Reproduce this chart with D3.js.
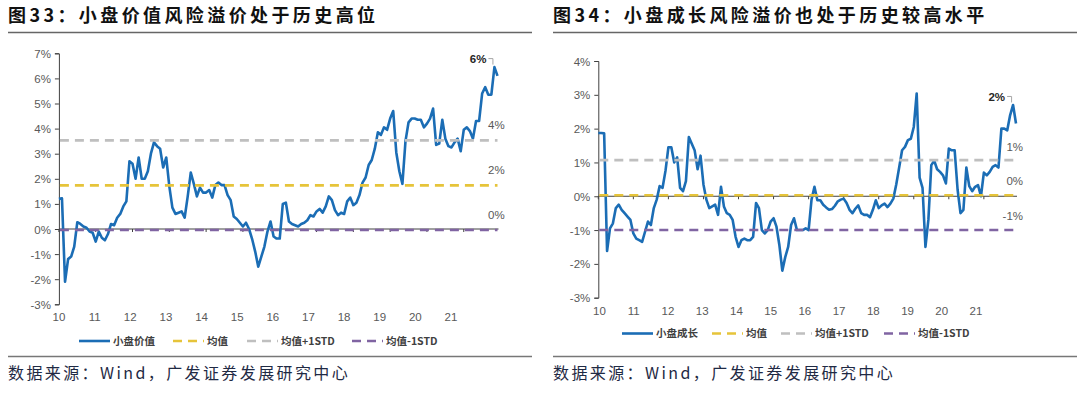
<!DOCTYPE html>
<html>
<head>
<meta charset="utf-8">
<script src="https://cdn.jsdelivr.net/npm/d3@7"></script>
<style>
  body { margin: 0; background: #fff; }
  svg { display: block; font-family: Arial, "Liberation Sans", "Noto Sans CJK SC", sans-serif; }
  .title { font-family: "Noto Sans CJK SC", sans-serif; font-weight: 700; font-size: 18px; letter-spacing: 3.4px; fill: #111; }
  .source { font-family: "Noto Sans CJK SC", sans-serif; font-size: 16px; letter-spacing: 2.4px; fill: #1f2a44; }
  .tick text, .lab { font-size: 11.5px; fill: #595959; }
  .legend text { font-family: "Noto Sans CJK SC", Arial, sans-serif; font-size: 10.5px; font-weight: 700; fill: #404040; }
</style>
</head>
<body>
<svg id="chart" width="1080" height="395"></svg>
<script>
// year tick labels (shared by both charts), monthly data 2010-01 .. 2021-12
var years = ["10", "11", "12", "13", "14", "15", "16", "17", "18", "19", "20", "21"];

// 图33 small-cap value risk premium (%)
var valueSeries = [
  1.2, 1.22, -2.1, -1.2, -1.1, -0.7, 0.27, 0.2, 0.1, 0.05, -0.1, -0.15,
  -0.5, -0.1, -0.35, -0.45, -0.2, 0.2, 0.15, 0.45, 0.6, 0.9, 1.1, 2.7,
  2.6, 2.0, 2.85, 2.0, 2.0, 2.3, 3.0, 3.45, 3.3, 3.2, 2.45, 2.85,
  1.7, 0.85, 0.6, 0.65, 0.7, 0.45, 1.3, 2.25, 1.8, 1.3, 1.65, 1.45,
  1.45, 1.55, 1.25, 1.75, 1.85, 1.75, 1.75, 1.35, 1.15, 0.5, 0.4, 0.25,
  0.1, 0.25, 0.0, -0.4, -0.9, -1.5, -1.1, -0.7, -0.1, 0.3, -0.3, -0.38,
  -0.38, 1.0, 1.05, 0.3, 0.2, 0.15, 0.1, 0.2, 0.25, 0.35, 0.55, 0.5,
  0.7, 0.8, 0.65, 0.9, 1.3, 1.15, 0.75, 0.55, 0.65, 0.6, 1.1, 1.25,
  0.95, 1.05, 1.35, 1.85, 2.05, 2.55, 2.75, 3.2, 3.85, 3.75, 4.05, 3.95,
  4.4, 4.7, 3.05, 2.3, 1.8, 3.5, 4.25, 4.4, 4.4, 4.35, 4.35, 4.05,
  4.2, 4.4, 4.8, 3.35, 3.4, 4.35, 3.6, 3.3, 3.25, 3.45, 3.6, 3.1,
  3.95, 4.05, 3.9, 3.6, 4.3, 4.3, 5.4, 5.65, 5.35, 5.35, 6.45, 6.1
];
var valueBands = [1.74, 3.53, -0.04]; // mean, +1std, -1std

// 图34 small-cap growth risk premium (%)
var growthSeries = [
  1.87, 1.87, 1.86, -1.62, -0.95, -0.8, -0.35, -0.25, -0.4, -0.5, -0.6, -0.7,
  -1.1, -1.25, -1.3, -1.35, -1.05, -0.75, -0.85, -0.35, -0.1, 0.3, 0.25, 0.75,
  1.45, 1.45, 1.0, 1.15, 0.25, 0.15, 0.45, 1.75, 1.55, 1.35, 0.8, 1.2,
  0.35, -0.1, -0.35, -0.3, -0.25, -0.55, 0.28, -0.3, -0.5, -0.55, -0.7, -1.2,
  -1.5, -1.3, -1.25, -1.3, -1.3, -1.2, -0.2, -0.35, -1.0, -1.1, -1.0, -0.75,
  -0.65, -0.9, -1.45, -2.2, -1.8, -1.5, -0.85, -0.65, -1.0, -1.0, -1.0, -0.95,
  -1.0, -0.1, 0.28, -0.12, -0.12, -0.25, -0.33, -0.4, -0.38, -0.28, -0.15, -0.1,
  -0.07, -0.2, -0.4, -0.5, -0.37, -0.27, -0.5, -0.55, -0.55, -0.62, -0.4, -0.12,
  -0.35, -0.27, -0.22, -0.32, -0.22, -0.07, 0.35, 0.85, 1.36, 1.46, 1.66, 1.7,
  2.05, 3.04, 0.55, 0.25, -1.5, -0.7, 0.92, 1.05, 0.8, 0.72, 0.62, 0.38,
  1.41, 1.36, 1.36, 0.2, -0.5, -0.4, 0.85, 0.3, 0.15, 0.28, 0.33, 0.0,
  0.7, 0.62, 0.72, 0.87, 0.92, 0.85, 2.0, 2.0, 1.95, 2.4, 2.7, 2.15
];
var growthBands = [0.03, 1.07, -1.0];

var bandNames = ["均值", "均值+1STD", "均值-1STD"];
var bandColors = ["#e6c43a", "#bfbfbf", "#8064a2"];
var lineColor = "#1b6db5";

var svg = d3.select("#chart");

var build = function(opts) {
  var g = svg.append("g");
  var n = opts.data.length;

  var xScale = d3.scaleLinear().domain([0, n - 1]).range([opts.x0, opts.x1]);
  var yScale = d3.scaleLinear().domain(opts.yDomain).range([opts.yBottom, opts.yTop]);
  var yearScale = d3.scalePoint().domain(years).range(opts.yearRange);

  // title + rules
  g.append("text").
    attr("class", "title").
    attr("x", opts.left).
    attr("y", 22).
    text(opts.title);
  g.append("line").
    attr("x1", opts.left).attr("x2", opts.right).
    attr("y1", 32.5).attr("y2", 32.5).
    attr("stroke", "#666").attr("stroke-width", 1.6);
  g.append("line").
    attr("x1", opts.left).attr("x2", opts.right).
    attr("y1", 356.5).attr("y2", 356.5).
    attr("stroke", "#777").attr("stroke-width", 1.6);
  g.append("text").
    attr("class", "source").
    attr("x", opts.left).
    attr("y", 379).
    text("数据来源：Wind，广发证券发展研究中心");

  // y axis
  var yAxis = d3.axisLeft(yScale).
    tickValues(d3.range(opts.yDomain[0], opts.yDomain[1] + 1)).
    tickFormat(function(d) { return d + "%"; }).
    tickSize(4).
    tickPadding(4);
  var gY = g.append("g").
    attr("transform", "translate(" + opts.x0 + ",0)").
    call(yAxis);
  gY.select(".domain").attr("stroke", "#404040");
  gY.selectAll(".tick line").attr("stroke", "#404040");
  gY.selectAll(".tick text").attr("dy", "0.35em");

  // zero line with yearly ticks
  var zy = yScale(0);
  g.append("line").
    attr("x1", opts.x0).attr("x2", opts.x1 + 1).
    attr("y1", zy).attr("y2", zy).
    attr("stroke", "#404040").attr("stroke-width", 1);
  g.selectAll(".mtick").
    data(d3.range(0, n, 12)).
    enter().append("line").
    attr("x1", function(d) { return xScale(d); }).
    attr("x2", function(d) { return xScale(d); }).
    attr("y1", zy).attr("y2", zy + 3).
    attr("stroke", "#404040");

  // year labels
  g.selectAll(".yr").
    data(years).
    enter().append("text").
    attr("class", "lab").
    attr("x", function(d) { return yearScale(d); }).
    attr("y", opts.yearY).
    attr("text-anchor", "middle").
    attr("dy", "0.35em").
    text(function(d) { return d; });

  // floating secondary labels on the right
  var y2 = d3.scaleLinear().domain(opts.y2Domain).range(opts.y2Range);
  g.selectAll(".y2").
    data(opts.y2Ticks).
    enter().append("text").
    attr("class", "lab").
    attr("x", opts.y2x).
    attr("y", function(d) { return y2(d); }).
    attr("text-anchor", opts.y2anchor).
    attr("dy", "0.35em").
    text(function(d) { return d + "%"; });

  // main series
  var line = d3.line().
    x(function(d, i) { return xScale(i); }).
    y(function(d) { return yScale(d); });
  g.append("path").
    datum(opts.data).
    attr("fill", "none").
    attr("stroke", lineColor).
    attr("stroke-width", 2.6).
    attr("stroke-linejoin", "round").
    attr("d", line);

  // mean / std bands
  g.selectAll(".band").
    data(opts.bands).
    enter().append("line").
    attr("x1", opts.x0 + 1).attr("x2", opts.x1).
    attr("y1", function(d) { return yScale(d); }).
    attr("y2", function(d) { return yScale(d); }).
    attr("stroke", function(d, i) { return bandColors[i]; }).
    attr("stroke-width", 2.6).
    attr("stroke-dasharray", "9,6");

  // last-value callout
  var li = n - 2;
  var px = xScale(li), py = yScale(opts.data[li]);
  g.append("path").
    attr("d", "M" + (px - 6) + "," + (py - 8.5) + "H" + (px - 1.5) + "V" + (py - 2.5)).
    attr("fill", "none").
    attr("stroke", "#a6a6a6").
    attr("stroke-width", 1);
  g.append("text").
    attr("x", px - 8).
    attr("y", py - 4).
    attr("text-anchor", "end").
    attr("font-size", "11.5px").
    attr("font-weight", "700").
    attr("fill", "#262626").
    text(opts.callout);

  // legend
  var lg = g.append("g").attr("class", "legend");
  var items = [{ name: opts.name, color: lineColor, dash: null }];
  bandNames.forEach(function(b, i) {
    items.push({ name: b, color: bandColors[i], dash: "9,6" });
  });
  lg.selectAll("g").
    data(items).
    enter().append("g").
    each(function(d, i) {
      var x = opts.legendX[i];
      var s = d3.select(this);
      s.append("line").
        attr("x1", x).attr("x2", x + opts.legendW).
        attr("y1", opts.legendY).attr("y2", opts.legendY).
        attr("stroke", d.color).
        attr("stroke-width", 2.6).
        attr("stroke-dasharray", d.dash);
      s.append("text").
        attr("x", x + opts.legendW + 3).
        attr("y", opts.legendY).
        attr("dy", "0.36em").
        text(d.name);
    });
};

build({
  title: "图33：小盘价值风险溢价处于历史高位",
  name: "小盘价值",
  data: valueSeries,
  bands: valueBands,
  left: 8, right: 532,
  x0: 58.9, x1: 497.5,
  yDomain: [-3, 7], yBottom: 304.3, yTop: 53.3,
  yearRange: [59, 451], yearY: 317,
  y2Domain: [0, 4], y2Range: [215, 125], y2Ticks: [0, 2, 4], y2x: 488, y2anchor: "start",
  callout: "6%",
  legendX: [79, 173, 247, 352], legendW: 31, legendY: 341
});

build({
  title: "图34：小盘成长风险溢价也处于历史较高水平",
  name: "小盘成长",
  data: growthSeries,
  bands: growthBands,
  left: 553, right: 1077,
  x0: 598.3, x1: 1016,
  yDomain: [-3, 4], yBottom: 297.7, yTop: 61,
  yearRange: [599.5, 976], yearY: 311,
  y2Domain: [-1, 1], y2Range: [215.7, 146.7], y2Ticks: [-1, 0, 1], y2x: 1023, y2anchor: "end",
  callout: "2%",
  legendX: [622, 712, 781, 884], legendW: 31, legendY: 333.5
});
</script>
</body>
</html>
